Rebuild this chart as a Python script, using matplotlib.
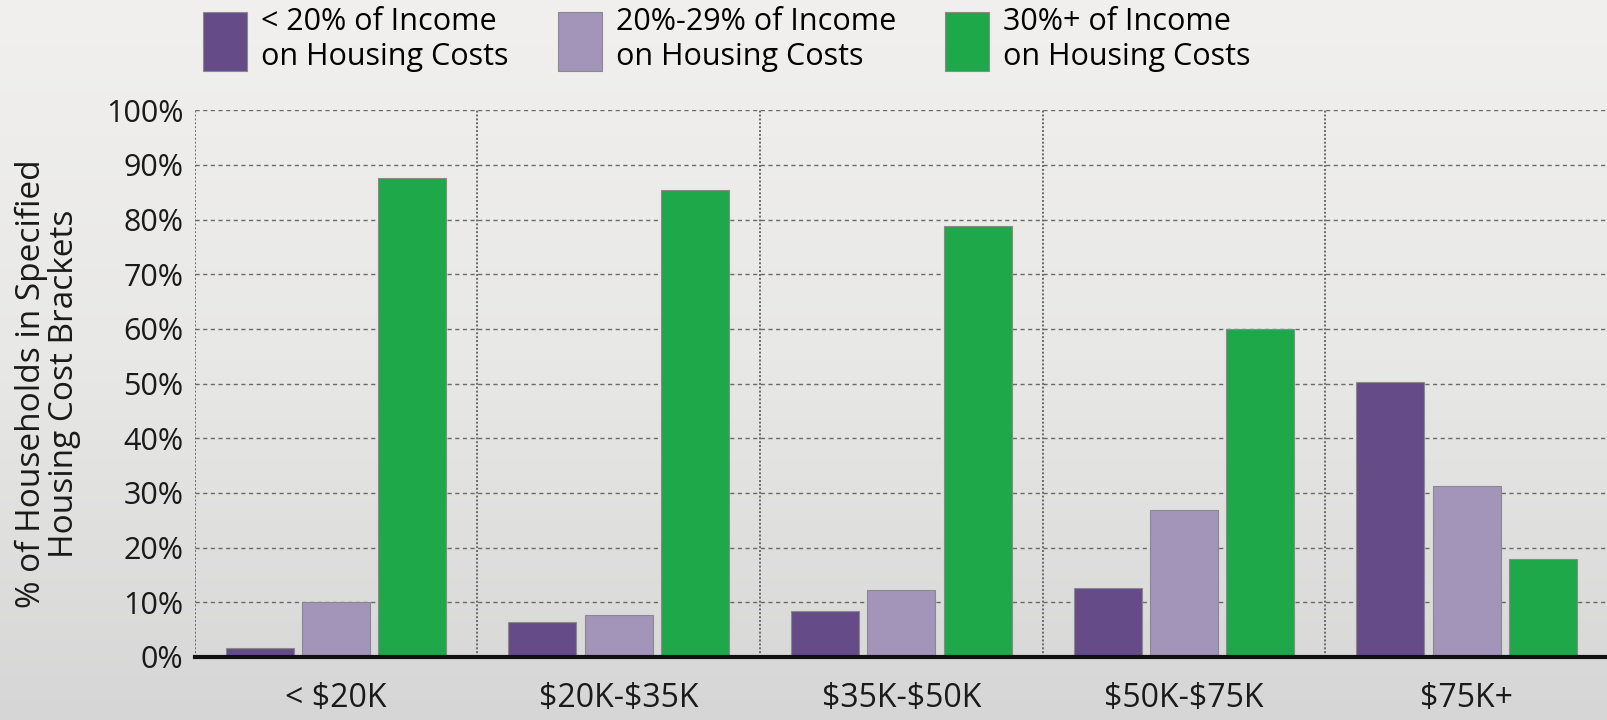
#Gráfica de barras: hogares por gasto en vivienda según ingreso
import matplotlib.pyplot as plt
from matplotlib.colors import LinearSegmentedColormap
import numpy as np

#Datos
ingresos = ["< \\$20K", "\\$20K-\\$35K", "\\$35K-\\$50K", "\\$50K-\\$75K", "\\$75K+"]
menos_20 = [1.7, 6.4, 8.4, 12.7, 50.2]
de_20_29 = [10.1, 7.7, 12.2, 26.8, 31.3]
mas_30 = [87.6, 85.4, 78.8, 59.9, 18.0]
etiquetas = ["< 20% of Income\non Housing Costs",
             "20%-29% of Income\non Housing Costs",
             "30%+ of Income\non Housing Costs"]
colores = ["#654C88", "#A394BA", "#1EA84A"]

plt.rcParams['font.family'] = ['Open Sans', 'DejaVu Sans']

fig = plt.figure(figsize=(16.08, 7.2), dpi=100)
fig.patch.set_facecolor("#ECEBEA")

#Fondo con degradado suave
fondo = fig.add_axes([0, 0, 1, 1], zorder=-5)
cm_fondo = LinearSegmentedColormap.from_list("fondo", ["#F1F0EF", "#E8E8E7", "#D6D6D6"])
grad = np.linspace(0, 1, 256).reshape(-1, 1)
fondo.imshow(grad, aspect="auto", cmap=cm_fondo, extent=[0, 1, 0, 1], origin="upper")
fondo.axis("off")

ax = fig.add_axes([0.121, 0.0875, 0.879, 0.7595])
ax.set_facecolor("none")

x = np.arange(len(ingresos))
w = 0.24
d = 0.27
series = [menos_20, de_20_29, mas_30]
for i, (vals, col, lab) in enumerate(zip(series, colores, etiquetas)):
	ax.bar(x + (i - 1) * d, vals, width=w, color=col, edgecolor="#8a8a8a",
	       linewidth=0.8, label=lab, zorder=3)

ax.set_xlim(-0.5, len(ingresos) - 0.5)
ax.set_ylim(0, 100)
ax.set_yticks(np.arange(0, 101, 10))
ax.set_yticklabels([f"{v}%" for v in range(0, 101, 10)], fontsize=22, color="#1a1a1a")
ax.set_xticks(x)
ax.set_xticklabels(ingresos, fontsize=23, color="#1a1a1a")
ax.set_xticks(np.arange(-0.5, len(ingresos), 1), minor=True)
ax.tick_params(axis="both", which="both", length=0)
ax.tick_params(axis="x", pad=18)
ax.tick_params(axis="y", pad=8)

#Rejilla
ax.yaxis.grid(True, linestyle=(0, (3, 2.5)), color="#6a6a6a", linewidth=1, zorder=1)
ax.xaxis.grid(True, which="minor", linestyle=(0, (1, 1.0)), color="#6a6a6a",
              linewidth=1.4, zorder=1)
ax.xaxis.grid(False, which="major")
for s in ["top", "right", "left"]:
	ax.spines[s].set_visible(False)
ax.spines["bottom"].set_linewidth(3)
ax.spines["bottom"].set_color("#111111")
ax.spines["bottom"].set_zorder(4)

ax.set_ylabel("% of Households in Specified\nHousing Cost Brackets", fontsize=24,
              color="#1a1a1a", labelpad=18, linespacing=1.0)

fig.legend(loc="upper left", bbox_to_anchor=(0.113, 1.02), ncol=3, frameon=False,
           fontsize=22, handlelength=1.45, handleheight=2.6, handletextpad=0.45,
           columnspacing=1.6, labelspacing=0.2, borderaxespad=0.3)

plt.savefig("out.png", dpi=100, facecolor=fig.get_facecolor())
